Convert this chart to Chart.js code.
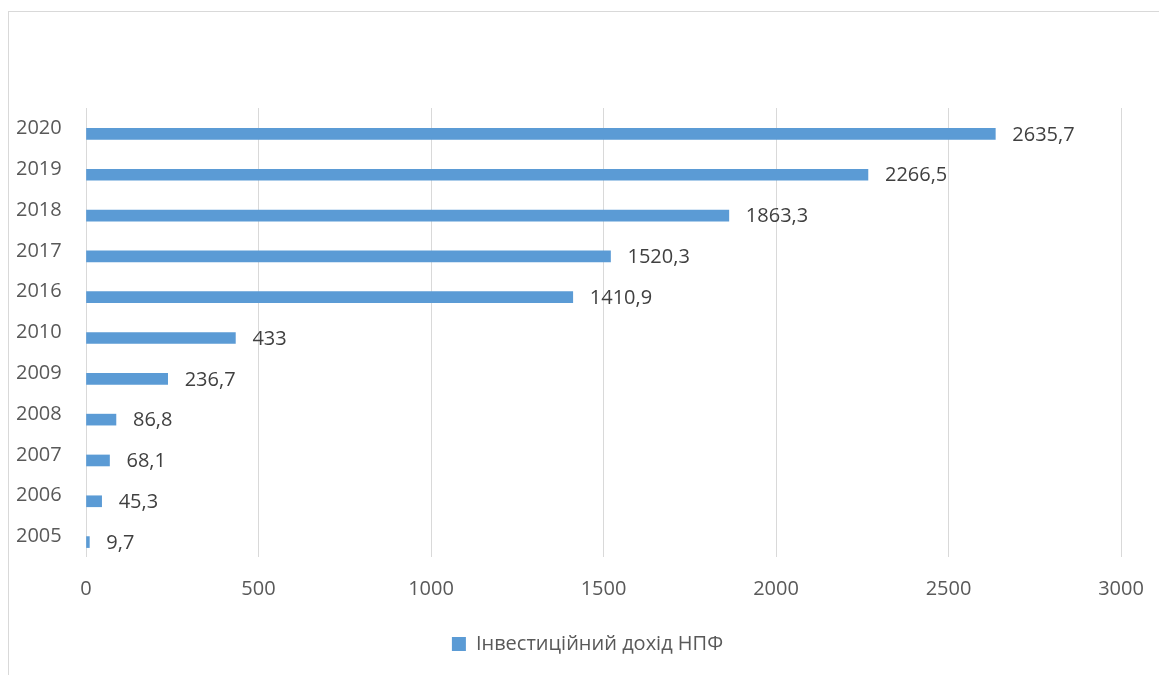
<!DOCTYPE html>
<html>
<head>
<meta charset="utf-8">
<script src="https://cdn.jsdelivr.net/npm/chart.js@4/dist/chart.umd.min.js"></script>
<style>
  html, body { margin: 0; padding: 0; background: #fff; overflow: hidden; }
  #frame { position: absolute; left: 8px; top: 11px; width: 1200px; height: 700px; border: 1px solid #d9d9d9; box-sizing: border-box; }
  #wrap { position: absolute; left: 0; top: 0; width: 1159px; height: 675px; }
</style>
</head>
<body>
<div id="frame"></div>
<div id="wrap"><canvas id="c" width="1159" height="675"></canvas></div>
<script>
const years = ['2020', '2019', '2018', '2017', '2016', '2010', '2009', '2008', '2007', '2006', '2005'];
const income = [2635.7, 2266.5, 1863.3, 1520.3, 1410.9, 433, 236.7, 86.8, 68.1, 45.3, 9.7];
const seriesName = 'Інвестиційний дохід НПФ';
const xTicks = [0, 500, 1000, 1500, 2000, 2500, 3000];

const FONT = '"Open Sans", "DejaVu Sans", sans-serif';

const labelPlugin = {
  id: 'valueLabels',
  afterDatasetsDraw(chart) {
    const ctx = chart.ctx;
    const meta = chart.getDatasetMeta(1);
    ctx.save();
    ctx.font = '20px ' + FONT;
    ctx.fillStyle = '#404040';
    ctx.textAlign = 'left';
    ctx.textBaseline = 'middle';
    meta.data.forEach((bar, i) => {
      const txt = String(income[i]).replace('.', ',');
      ctx.fillText(txt, bar.x + 17, bar.y + 1);
    });
    ctx.restore();
  }
};

new Chart(document.getElementById('c'), {
  type: 'bar',
  data: {
    labels: years,
    datasets: [
      { label: '', data: [], backgroundColor: 'rgba(0,0,0,0)' },
      { label: seriesName, data: income, backgroundColor: '#5B9BD5', borderWidth: 0 }
    ]
  },
  options: {
    indexAxis: 'y',
    responsive: false,
    animation: false,
    devicePixelRatio: 1,
    barThickness: 11,
    layout: { padding: { left: 54, top: 108, right: 38, bottom: 11 } },
    plugins: {
      tooltip: { enabled: false },
      legend: {
        position: 'bottom',
        labels: {
          filter: (item) => item.datasetIndex === 1,
          boxWidth: 14,
          boxHeight: 14,
          padding: 7,
          color: '#595959',
          font: { family: FONT, size: 20 }
        }
      }
    },
    scales: {
      x: {
        min: 0, max: 3000,
        afterBuildTicks: (s) => { s.ticks = xTicks.map(v => ({ value: v })); },
        afterFit: (s) => { s.height = 70; s.paddingLeft = 0; s.paddingRight = 0; },
        border: { display: false },
        grid: { color: '#d9d9d9', lineWidth: 1, drawTicks: false },
        ticks: { color: '#595959', padding: 20, font: { family: FONT, size: 20 }, callback: (v) => String(v) }
      },
      y: {
        afterFit: (s) => { s.width = 32; },
        border: { display: false },
        grid: { display: false, drawTicks: false },
        ticks: { color: '#595959', mirror: true, padding: -70, font: { family: FONT, size: 20 } }
      }
    }
  },
  plugins: [labelPlugin]
});
</script>
</body>
</html>
